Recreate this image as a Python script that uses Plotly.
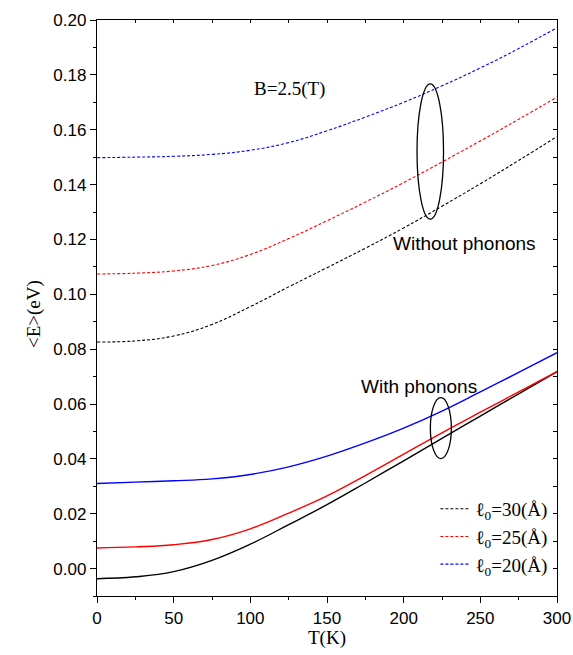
import plotly.graph_objects as go

# Temperature grid (K)
T = [0, 25, 50, 75, 100, 125, 150, 175, 200, 225, 250, 275, 300]

# Mean energy <E> (eV) without phonons, B = 2.5 T
E_nophon_l30 = [0.0826, 0.0830, 0.0848, 0.0890, 0.0955, 0.1027, 0.1097, 0.1168,
                0.1242, 0.1321, 0.1403, 0.1488, 0.1575]
E_nophon_l25 = [0.1074, 0.1077, 0.1085, 0.1105, 0.1145, 0.1203, 0.1268, 0.1336,
                0.1407, 0.1482, 0.1559, 0.1638, 0.1719]
E_nophon_l20 = [0.1498, 0.1500, 0.1503, 0.1510, 0.1525, 0.1553, 0.1596, 0.1646,
                0.1700, 0.1760, 0.1825, 0.1896, 0.1972]

# Mean energy <E> (eV) with phonons
E_phon_l30 = [-0.0037, -0.0030, -0.0011, 0.0030, 0.0089, 0.0160, 0.0233, 0.0312,
              0.0393, 0.0475, 0.0556, 0.0637, 0.0718]
E_phon_l25 = [0.0075, 0.0079, 0.0087, 0.0106, 0.0145, 0.0202, 0.0265, 0.0339,
              0.0417, 0.0495, 0.0570, 0.0644, 0.0718]
E_phon_l20 = [0.0310, 0.0315, 0.0320, 0.0327, 0.0343, 0.0371, 0.0410, 0.0458,
              0.0512, 0.0574, 0.0644, 0.0715, 0.0787]

legend_labels = ["ℓ<sub>0</sub>=30(Å)",
                 "ℓ<sub>0</sub>=25(Å)",
                 "ℓ<sub>0</sub>=20(Å)"]
colors = ["#000000", "#ff0000", "#0000ff"]

SERIF = "Liberation Serif, Times New Roman, serif"
SANS = "Liberation Sans, Arial, sans-serif"

fig = go.Figure()

for ys, name, c in zip([E_nophon_l30, E_nophon_l25, E_nophon_l20], legend_labels, colors):
    fig.add_trace(go.Scatter(x=T, y=ys, mode="lines", name=name,
                             line=dict(color=c, width=1.1, dash="3px,2px", shape="spline",
                                       smoothing=1.2)))

for ys, c in zip([E_phon_l30, E_phon_l25, E_phon_l20], colors):
    fig.add_trace(go.Scatter(x=T, y=ys, mode="lines", showlegend=False,
                             line=dict(color=c, width=1.4, shape="spline", smoothing=1.2)))

# Ellipses grouping each family of curves
fig.add_shape(type="circle", xref="x", yref="y", x0=208.7, x1=226.0, y0=0.1274, y1=0.1767,
              line=dict(color="black", width=1.3))
fig.add_shape(type="circle", xref="x", yref="y", x0=217.4, x1=231.1, y0=0.0401, y1=0.0623,
              line=dict(color="black", width=1.3))

fig.add_annotation(x=125.5, y=0.1749, text="B=2.5(T)", showarrow=False,
                   font=dict(family=SERIF, size=19, color="black"))
fig.add_annotation(x=239.5, y=0.1184, text="Without phonons", showarrow=False,
                   font=dict(family=SANS, size=19, color="black"))
fig.add_annotation(x=210, y=0.0664, text="With phonons", showarrow=False,
                   font=dict(family=SANS, size=19, color="black"))

# Axis titles
fig.add_annotation(xref="paper", yref="paper", x=0, y=0.5, xshift=-76, yshift=-6,
                   text="<E>(eV)", textangle=-90, showarrow=False,
                   font=dict(family=SERIF, size=19, color="black"))
fig.add_annotation(xref="paper", yref="paper", x=0.5, y=0, yshift=-42,
                   text="T(K)", showarrow=False, yanchor="middle",
                   font=dict(family=SERIF, size=19, color="black"))

axis_common = dict(showgrid=False, zeroline=False, linecolor="black", linewidth=1.3,
                   tickcolor="black", tickwidth=1.2, automargin=False)

fig.update_layout(
    width=573, height=655,
    margin=dict(l=97, r=16, t=20, b=59),
    plot_bgcolor="white", paper_bgcolor="white",
    xaxis=dict(range=[0, 300], tick0=0, dtick=50, ticks="outside", ticklen=6,
               minor=dict(dtick=25, ticks="outside", ticklen=3, tickcolor="black"),
               tickfont=dict(family=SANS, size=17, color="black"), **axis_common),
    yaxis=dict(range=[-0.01, 0.20], tick0=0, dtick=0.02, tickformat=".2f",
               ticks="outside", ticklen=6,
               minor=dict(dtick=0.01, ticks="outside", ticklen=3, tickcolor="black"),
               tickfont=dict(family=SANS, size=17, color="black"), **axis_common),
    xaxis2=dict(range=[0, 300], overlaying="x", anchor="y", side="top", dtick=25,
                ticks="inside", ticklen=3, showticklabels=False, **axis_common),
    yaxis2=dict(range=[-0.01, 0.20], overlaying="y", anchor="x", side="right", dtick=0.01,
                ticks="inside", ticklen=4, showticklabels=False, **axis_common),
    legend=dict(x=0.99, y=0.021, xanchor="right", yanchor="bottom",
                bgcolor="rgba(0,0,0,0)", borderwidth=0,
                font=dict(family=SERIF, size=19, color="black")),
    showlegend=True,
)

# Invisible helper trace so the mirrored frame axes are drawn
fig.add_trace(go.Scatter(x=[0], y=[0], xaxis="x2", yaxis="y2", mode="markers",
                         marker=dict(opacity=0), showlegend=False, hoverinfo="skip"))

fig.write_html("out.html")
